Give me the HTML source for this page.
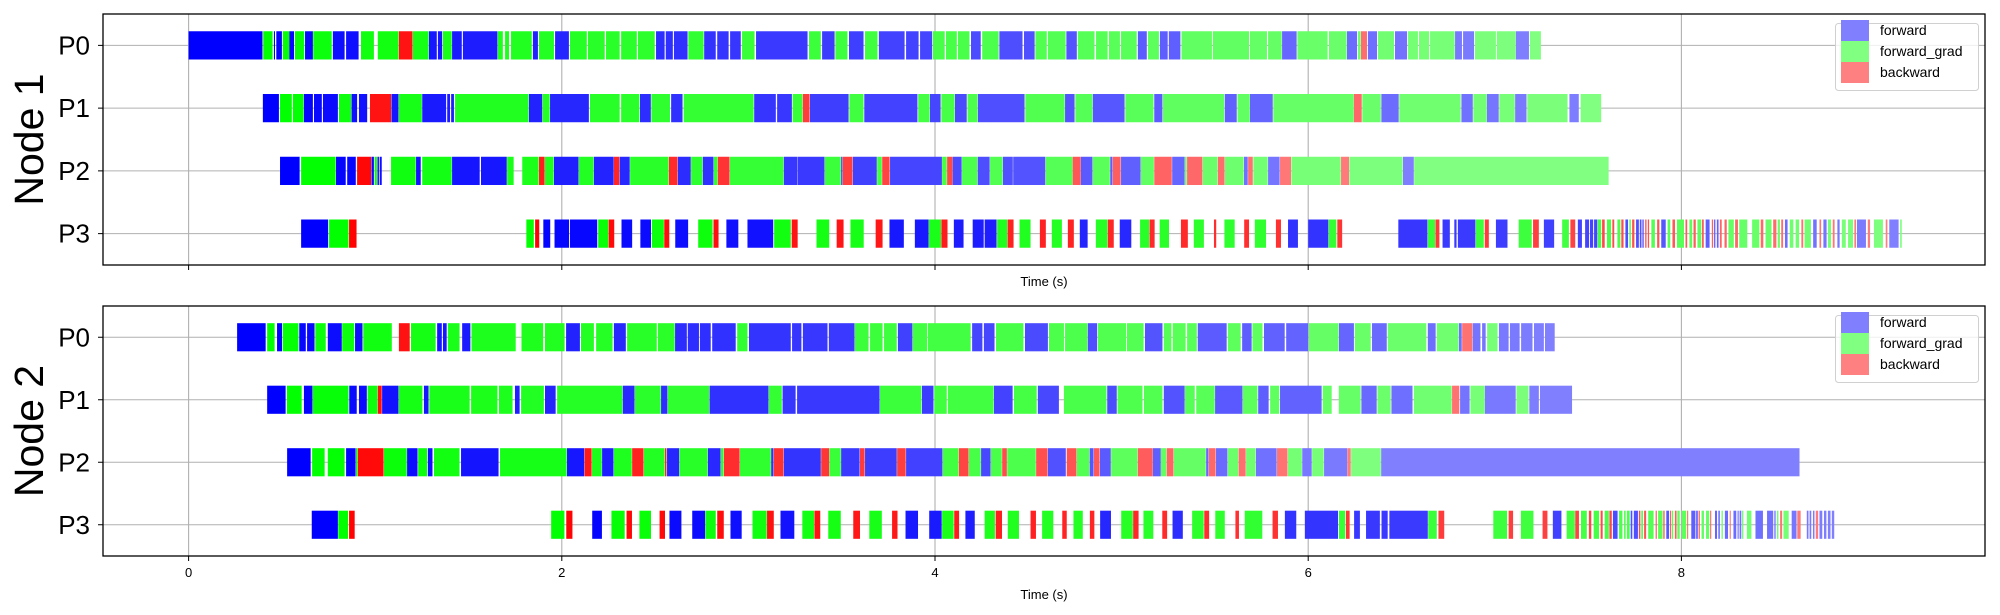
<!DOCTYPE html>
<html><head><meta charset="utf-8"><style>
html,body{margin:0;padding:0;background:#fff;}
svg{display:block;font-family:"Liberation Sans","DejaVu Sans",sans-serif;}
</style></head><body>
<svg id="chart" width="2000" height="615" viewBox="0 0 2000 615" xmlns="http://www.w3.org/2000/svg"></svg>
<script>
// ---- data (seconds), types: f=forward, g=forward_grad, b=backward ----
const rowLabels = ["P0","P1","P2","P3"];
const nodeLabels = ["Node 1","Node 2"];
const xTicks = [0,2,4,6,8];
const legendLabels = ["forward","forward_grad","backward"];

const n1p0 = [[0,0.396,"f"],[0.40,0.45,"g"],[0.457,0.463,"f"],[0.47,0.50,"f"],[0.505,0.54,"g"],[0.54,0.565,"f"],[0.57,0.62,"g"],[0.624,0.666,"f"],[0.668,0.767,"g"],[0.773,0.836,"f"],[0.844,0.911,"f"],[0.924,0.993,"g"],[1.014,1.125,"g"],[1.127,1.20,"b"],[1.202,1.286,"g"],[1.288,1.33,"f"],[1.336,1.359,"f"],[1.363,1.41,"g"],[1.412,1.464,"f"],[1.47,1.655,"f"],[1.657,1.684,"g"],[1.696,1.717,"g"],[1.728,1.839,"g"],[1.845,1.872,"f"],[1.878,1.958,"g"],[1.964,2.038,"f"],[2.044,2.134,"g"],[2.14,2.23,"g"],[2.237,2.31,"g"],[2.318,2.402,"g"],[2.408,2.498,"g"],[2.505,2.551,"f"],[2.557,2.595,"f"],[2.601,2.674,"f"],[2.678,2.76,"g"],[2.763,2.825,"f"],[2.833,2.894,"f"],[2.902,2.959,"f"],[2.966,3.033,"g"],[3.041,3.317,"f"],[3.325,3.388,"g"],[3.395,3.462,"f"],[3.466,3.531,"g"],[3.539,3.617,"f"],[3.625,3.692,"g"],[3.699,3.837,"f"],[3.845,3.912,"f"],[3.92,3.985,"f"],[3.989,4.052,"g"],[4.059,4.117,"g"],[4.123,4.185,"g"],[4.193,4.245,"f"],[4.253,4.341,"g"],[4.345,4.469,"f"],[4.477,4.534,"f"],[4.538,4.599,"g"],[4.605,4.70,"g"],[4.704,4.76,"f"],[4.765,4.855,"g"],[4.863,4.925,"g"],[4.932,4.991,"g"],[4.997,5.081,"g"],[5.087,5.135,"f"],[5.141,5.20,"g"],[5.205,5.247,"f"],[5.253,5.315,"f"],[5.321,5.484,"g"],[5.489,5.683,"g"],[5.688,5.779,"g"],[5.785,5.858,"g"],[5.86,5.938,"f"],[5.942,6.104,"g"],[6.111,6.206,"g"],[6.208,6.262,"f"],[6.267,6.281,"g"],[6.283,6.315,"b"],[6.32,6.369,"f"],[6.374,6.46,"g"],[6.465,6.53,"f"],[6.535,6.588,"g"],[6.594,6.648,"g"],[6.653,6.785,"g"],[6.787,6.824,"f"],[6.83,6.889,"f"],[6.894,7.006,"g"],[7.011,7.112,"g"],[7.113,7.183,"f"],[7.188,7.247,"g"]];
const n1p1 = [[0.398,0.484,"f"],[0.49,0.553,"g"],[0.559,0.616,"g"],[0.618,0.666,"f"],[0.672,0.714,"f"],[0.72,0.80,"f"],[0.806,0.871,"g"],[0.873,0.903,"f"],[0.913,0.957,"f"],[0.972,1.085,"b"],[1.087,1.125,"f"],[1.127,1.25,"g"],[1.252,1.38,"f"],[1.386,1.401,"f"],[1.407,1.422,"f"],[1.428,1.822,"g"],[1.824,1.895,"f"],[1.897,1.935,"g"],[1.937,2.145,"f"],[2.151,2.31,"g"],[2.318,2.416,"g"],[2.419,2.477,"f"],[2.48,2.58,"g"],[2.586,2.647,"f"],[2.653,3.028,"g"],[3.031,3.147,"f"],[3.154,3.233,"f"],[3.237,3.29,"g"],[3.292,3.328,"b"],[3.33,3.537,"f"],[3.541,3.617,"g"],[3.621,3.906,"f"],[3.91,3.971,"g"],[3.973,4.03,"f"],[4.034,4.105,"g"],[4.107,4.17,"f"],[4.174,4.228,"g"],[4.23,4.48,"f"],[4.484,4.695,"g"],[4.697,4.748,"f"],[4.752,4.844,"g"],[4.846,5.016,"f"],[5.02,5.171,"g"],[5.175,5.219,"f"],[5.222,5.55,"g"],[5.553,5.617,"f"],[5.621,5.687,"g"],[5.688,5.81,"f"],[5.813,6.244,"g"],[6.245,6.287,"b"],[6.29,6.389,"g"],[6.392,6.485,"f"],[6.488,6.817,"g"],[6.821,6.882,"f"],[6.885,6.957,"g"],[6.958,7.021,"f"],[7.024,7.107,"g"],[7.109,7.17,"f"],[7.174,7.39,"g"],[7.40,7.45,"f"],[7.46,7.57,"g"]];
const n1p2 = [[0.49,0.595,"f"],[0.603,0.788,"g"],[0.79,0.842,"f"],[0.85,0.896,"f"],[0.903,0.978,"b"],[0.98,0.993,"f"],[0.997,1.009,"g"],[1.012,1.02,"f"],[1.024,1.035,"f"],[1.085,1.217,"g"],[1.219,1.244,"f"],[1.252,1.41,"g"],[1.412,1.56,"f"],[1.567,1.705,"f"],[1.707,1.742,"g"],[1.788,1.876,"g"],[1.878,1.908,"b"],[1.91,1.956,"g"],[1.958,2.09,"f"],[2.092,2.17,"g"],[2.172,2.278,"f"],[2.279,2.308,"b"],[2.31,2.364,"f"],[2.366,2.572,"g"],[2.574,2.62,"b"],[2.622,2.691,"f"],[2.693,2.754,"g"],[2.756,2.813,"f"],[2.815,2.834,"g"],[2.836,2.899,"b"],[2.901,3.188,"g"],[3.19,3.261,"f"],[3.263,3.408,"f"],[3.41,3.495,"g"],[3.497,3.504,"f"],[3.506,3.558,"b"],[3.56,3.688,"f"],[3.69,3.715,"g"],[3.717,3.757,"b"],[3.759,4.037,"f"],[4.038,4.063,"g"],[4.065,4.094,"b"],[4.095,4.143,"f"],[4.145,4.227,"g"],[4.229,4.293,"f"],[4.295,4.362,"g"],[4.364,4.417,"f"],[4.419,4.591,"f"],[4.593,4.737,"g"],[4.738,4.781,"b"],[4.782,4.844,"f"],[4.846,4.937,"g"],[4.939,4.951,"f"],[4.953,4.995,"b"],[4.997,5.102,"f"],[5.104,5.173,"g"],[5.175,5.269,"b"],[5.271,5.338,"f"],[5.34,5.349,"g"],[5.351,5.433,"b"],[5.435,5.514,"g"],[5.516,5.552,"b"],[5.554,5.654,"g"],[5.656,5.676,"f"],[5.678,5.703,"b"],[5.706,5.783,"g"],[5.785,5.847,"f"],[5.849,5.908,"b"],[5.91,6.174,"g"],[6.176,6.219,"b"],[6.221,6.506,"g"],[6.508,6.566,"f"],[6.568,7.61,"g"]];
const n1p3 = [[0.603,0.748,"f"],[0.753,0.857,"g"],[0.86,0.90,"b"],[1.81,1.85,"g"],[1.857,1.879,"b"],[1.901,1.938,"f"],[1.961,2.039,"f"],[2.044,2.19,"f"],[2.195,2.249,"g"],[2.251,2.281,"b"],[2.32,2.377,"f"],[2.421,2.478,"f"],[2.483,2.547,"g"],[2.549,2.576,"b"],[2.608,2.677,"f"],[2.731,2.808,"g"],[2.813,2.84,"b"],[2.882,2.946,"f"],[2.995,3.133,"f"],[3.138,3.227,"g"],[3.232,3.264,"b"],[3.365,3.433,"g"],[3.473,3.51,"b"],[3.547,3.618,"g"],[3.682,3.719,"b"],[3.756,3.833,"f"],[3.892,3.966,"f"],[3.968,4.032,"g"],[4.034,4.067,"b"],[4.101,4.153,"f"],[4.202,4.261,"f"],[4.266,4.33,"f"],[4.333,4.387,"g"],[4.389,4.421,"b"],[4.453,4.512,"g"],[4.562,4.594,"b"],[4.626,4.68,"g"],[4.712,4.744,"b"],[4.776,4.818,"f"],[4.862,4.924,"g"],[4.926,4.958,"b"],[4.99,5.052,"f"],[5.099,5.148,"g"],[5.15,5.177,"b"],[5.204,5.254,"g"],[5.318,5.355,"b"],[5.387,5.441,"g"],[5.495,5.507,"b"],[5.551,5.606,"g"],[5.657,5.683,"b"],[5.714,5.774,"g"],[5.827,5.854,"b"],[5.892,5.945,"f"],[6.0,6.108,"f"],[6.11,6.151,"g"],[6.156,6.182,"b"],[6.483,6.639,"f"],[6.641,6.68,"g"],[6.682,6.703,"b"],[6.72,6.759,"f"],[6.783,6.795,"f"],[6.802,6.896,"f"],[6.898,6.941,"g"],[6.946,6.968,"b"],[7.006,7.068,"f"],[7.128,7.198,"g"],[7.205,7.236,"b"],[7.263,7.318,"f"],[7.361,7.397,"g"],[7.405,7.431,"b"],[7.445,7.467,"f"],[7.484,7.505,"f"],[7.51,7.527,"f"],[7.532,7.549,"f"],[7.551,7.57,"g"],[7.575,7.589,"b"],[7.601,7.623,"g"],[7.63,7.64,"b"],[7.657,7.673,"g"],[7.678,7.69,"b"],[7.70,7.714,"f"],[7.721,7.729,"g"],[7.736,7.748,"b"],[7.757,7.772,"f"],[7.777,7.786,"f"],[7.791,7.798,"f"],[7.806,7.813,"b"],[7.82,7.827,"b"],[7.839,7.858,"g"],[7.87,7.882,"b"],[7.892,7.916,"f"],[7.926,7.94,"g"],[7.952,7.966,"b"],[7.976,8.014,"g"],[8.022,8.031,"b"],[8.043,8.058,"g"],[8.065,8.077,"b"],[8.086,8.106,"g"],[8.11,8.12,"b"],[8.13,8.151,"f"],[8.163,8.17,"b"],[8.175,8.182,"f"],[8.19,8.199,"f"],[8.206,8.216,"b"],[8.231,8.243,"b"],[8.252,8.281,"g"],[8.288,8.303,"b"],[8.31,8.353,"g"],[8.379,8.418,"g"],[8.425,8.439,"b"],[8.451,8.483,"g"],[8.492,8.509,"b"],[8.516,8.528,"g"],[8.535,8.545,"b"],[8.555,8.569,"f"],[8.581,8.60,"g"],[8.612,8.631,"g"],[8.643,8.653,"b"],[8.66,8.694,"g"],[8.706,8.725,"f"],[8.74,8.749,"b"],[8.761,8.778,"f"],[8.785,8.802,"g"],[8.811,8.821,"b"],[8.836,8.848,"f"],[8.86,8.881,"g"],[8.893,8.92,"g"],[8.927,8.936,"b"],[8.941,8.989,"f"],[8.999,9.011,"b"],[9.032,9.08,"g"],[9.095,9.104,"b"],[9.114,9.164,"f"],[9.172,9.181,"g"]];

const n2p0 = [[0.26,0.413,"f"],[0.421,0.461,"g"],[0.474,0.501,"f"],[0.505,0.589,"g"],[0.593,0.628,"f"],[0.635,0.675,"f"],[0.679,0.735,"g"],[0.746,0.821,"f"],[0.823,0.888,"g"],[0.892,0.932,"f"],[0.936,1.089,"g"],[1.127,1.185,"b"],[1.192,1.324,"g"],[1.332,1.357,"f"],[1.363,1.383,"f"],[1.389,1.452,"g"],[1.466,1.51,"f"],[1.516,1.753,"g"],[1.784,1.90,"g"],[1.91,2.015,"g"],[2.023,2.097,"f"],[2.103,2.172,"g"],[2.184,2.272,"g"],[2.279,2.343,"f"],[2.35,2.509,"g"],[2.515,2.605,"g"],[2.607,2.67,"f"],[2.675,2.735,"f"],[2.74,2.798,"f"],[2.806,2.932,"f"],[2.94,2.995,"g"],[3.003,3.227,"f"],[3.234,3.284,"f"],[3.292,3.424,"f"],[3.431,3.569,"f"],[3.571,3.644,"g"],[3.652,3.719,"g"],[3.727,3.795,"g"],[3.801,3.879,"f"],[3.881,3.958,"g"],[3.962,4.191,"g"],[4.199,4.254,"f"],[4.262,4.319,"f"],[4.327,4.474,"g"],[4.482,4.605,"f"],[4.611,4.691,"g"],[4.697,4.817,"g"],[4.819,4.869,"f"],[4.873,5.024,"g"],[5.029,5.118,"g"],[5.125,5.219,"f"],[5.226,5.267,"g"],[5.274,5.343,"g"],[5.351,5.403,"g"],[5.408,5.563,"f"],[5.569,5.638,"g"],[5.646,5.697,"f"],[5.701,5.755,"g"],[5.763,5.874,"f"],[5.882,6.0,"f"],[6.004,6.163,"g"],[6.165,6.245,"f"],[6.25,6.335,"g"],[6.342,6.421,"f"],[6.426,6.633,"g"],[6.641,6.683,"f"],[6.689,6.806,"g"],[6.808,6.823,"f"],[6.825,6.88,"b"],[6.882,6.923,"f"],[6.932,6.951,"f"],[6.959,7.015,"g"],[7.022,7.074,"f"],[7.081,7.133,"f"],[7.141,7.202,"f"],[7.21,7.263,"f"],[7.269,7.321,"f"]];
const n2p1 = [[0.421,0.52,"f"],[0.527,0.606,"g"],[0.618,0.664,"f"],[0.666,0.857,"g"],[0.861,0.901,"f"],[0.913,0.955,"f"],[0.959,1.012,"g"],[1.014,1.035,"b"],[1.037,1.125,"f"],[1.127,1.253,"g"],[1.261,1.286,"f"],[1.29,1.506,"g"],[1.514,1.655,"g"],[1.663,1.736,"g"],[1.749,1.774,"f"],[1.782,1.904,"g"],[1.91,1.967,"f"],[1.975,2.325,"g"],[2.327,2.39,"f"],[2.392,2.53,"g"],[2.532,2.566,"f"],[2.568,2.79,"g"],[2.792,3.108,"f"],[3.11,3.179,"g"],[3.183,3.253,"f"],[3.261,3.703,"f"],[3.705,3.927,"g"],[3.93,3.992,"f"],[3.996,4.063,"g"],[4.069,4.314,"g"],[4.316,4.416,"f"],[4.423,4.545,"g"],[4.551,4.664,"f"],[4.691,4.919,"g"],[4.923,4.974,"f"],[4.978,5.112,"g"],[5.12,5.219,"g"],[5.226,5.338,"f"],[5.34,5.392,"g"],[5.40,5.499,"g"],[5.501,5.648,"f"],[5.65,5.728,"g"],[5.732,5.788,"f"],[5.796,5.845,"g"],[5.849,6.072,"f"],[6.078,6.126,"g"],[6.164,6.281,"g"],[6.285,6.367,"f"],[6.371,6.442,"g"],[6.446,6.559,"f"],[6.566,6.769,"g"],[6.771,6.81,"b"],[6.814,6.865,"f"],[6.869,6.946,"g"],[6.947,7.112,"f"],[7.116,7.181,"g"],[7.185,7.236,"f"],[7.242,7.414,"f"]];
const n2p2 = [[0.528,0.654,"f"],[0.662,0.729,"g"],[0.746,0.836,"g"],[0.844,0.895,"f"],[0.897,0.905,"g"],[0.907,1.045,"b"],[1.047,1.169,"g"],[1.171,1.227,"f"],[1.23,1.278,"g"],[1.282,1.307,"f"],[1.315,1.452,"g"],[1.46,1.661,"f"],[1.669,2.026,"g"],[2.028,2.12,"f"],[2.122,2.16,"b"],[2.162,2.214,"g"],[2.216,2.277,"f"],[2.279,2.375,"g"],[2.377,2.438,"b"],[2.44,2.551,"g"],[2.553,2.561,"b"],[2.564,2.629,"f"],[2.631,2.781,"g"],[2.783,2.851,"f"],[2.853,2.867,"g"],[2.869,2.953,"b"],[2.955,3.12,"g"],[3.122,3.134,"f"],[3.136,3.188,"b"],[3.19,3.388,"f"],[3.39,3.433,"b"],[3.435,3.495,"g"],[3.497,3.596,"f"],[3.598,3.623,"b"],[3.625,3.795,"f"],[3.797,3.843,"b"],[3.845,4.04,"f"],[4.042,4.126,"g"],[4.128,4.18,"b"],[4.182,4.245,"g"],[4.247,4.298,"f"],[4.30,4.358,"g"],[4.36,4.385,"b"],[4.387,4.54,"g"],[4.542,4.603,"b"],[4.605,4.701,"f"],[4.706,4.758,"b"],[4.76,4.827,"g"],[4.829,4.85,"f"],[4.852,4.882,"b"],[4.884,4.942,"f"],[4.944,5.085,"g"],[5.087,5.167,"b"],[5.168,5.21,"f"],[5.211,5.24,"g"],[5.242,5.278,"b"],[5.28,5.451,"g"],[5.453,5.466,"f"],[5.468,5.504,"b"],[5.506,5.567,"f"],[5.569,5.625,"g"],[5.627,5.665,"b"],[5.667,5.718,"g"],[5.72,5.831,"f"],[5.833,5.889,"b"],[5.891,5.966,"g"],[5.968,6.019,"f"],[6.021,6.083,"g"],[6.085,6.209,"f"],[6.21,6.228,"b"],[6.23,6.389,"g"],[6.391,8.633,"f"]];
const n2p3 = [[0.66,0.80,"f"],[0.802,0.855,"g"],[0.86,0.89,"b"],[1.943,2.014,"g"],[2.024,2.057,"b"],[2.163,2.215,"f"],[2.266,2.337,"g"],[2.347,2.376,"b"],[2.416,2.478,"g"],[2.524,2.553,"b"],[2.577,2.641,"f"],[2.699,2.768,"f"],[2.77,2.825,"g"],[2.833,2.868,"b"],[2.904,2.964,"f"],[3.022,3.098,"g"],[3.10,3.136,"b"],[3.172,3.246,"f"],[3.289,3.352,"g"],[3.354,3.385,"b"],[3.428,3.495,"g"],[3.562,3.598,"b"],[3.648,3.715,"g"],[3.77,3.799,"b"],[3.842,3.909,"f"],[3.969,4.036,"f"],[4.038,4.10,"g"],[4.103,4.129,"b"],[4.163,4.213,"f"],[4.266,4.321,"g"],[4.325,4.359,"b"],[4.39,4.45,"g"],[4.512,4.541,"b"],[4.574,4.634,"g"],[4.682,4.706,"b"],[4.742,4.792,"g"],[4.83,4.854,"b"],[4.885,4.943,"f"],[4.998,5.06,"g"],[5.062,5.091,"b"],[5.117,5.17,"g"],[5.218,5.244,"b"],[5.273,5.328,"f"],[5.378,5.44,"g"],[5.443,5.469,"b"],[5.502,5.553,"g"],[5.61,5.629,"b"],[5.66,5.754,"g"],[5.809,5.838,"b"],[5.875,5.936,"f"],[5.982,6.16,"f"],[6.165,6.198,"g"],[6.202,6.222,"b"],[6.246,6.277,"f"],[6.31,6.384,"f"],[6.393,6.426,"f"],[6.435,6.641,"f"],[6.643,6.689,"g"],[6.698,6.729,"b"],[6.992,7.066,"g"],[7.074,7.098,"b"],[7.14,7.207,"g"],[7.256,7.282,"b"],[7.311,7.357,"f"],[7.385,7.429,"g"],[7.431,7.451,"b"],[7.462,7.493,"g"],[7.504,7.517,"b"],[7.53,7.559,"g"],[7.567,7.578,"b"],[7.589,7.611,"g"],[7.614,7.627,"b"],[7.633,7.658,"f"],[7.666,7.684,"g"],[7.693,7.701,"g"],[7.708,7.723,"g"],[7.728,7.737,"f"],[7.745,7.767,"f"],[7.772,7.78,"b"],[7.785,7.794,"g"],[7.80,7.811,"b"],[7.822,7.851,"g"],[7.862,7.868,"b"],[7.875,7.899,"g"],[7.903,7.91,"b"],[7.919,7.934,"f"],[7.939,7.945,"b"],[7.949,7.956,"g"],[7.965,7.974,"b"],[7.978,7.991,"g"],[8.002,8.026,"g"],[8.031,8.035,"b"],[8.053,8.075,"f"],[8.079,8.088,"f"],[8.092,8.099,"b"],[8.108,8.121,"g"],[8.132,8.149,"g"],[8.154,8.16,"b"],[8.18,8.191,"f"],[8.198,8.206,"f"],[8.215,8.222,"g"],[8.233,8.25,"f"],[8.259,8.263,"b"],[8.279,8.294,"f"],[8.301,8.307,"f"],[8.312,8.321,"f"],[8.325,8.332,"g"],[8.351,8.375,"g"],[8.397,8.437,"f"],[8.459,8.492,"f"],[8.498,8.505,"f"],[8.512,8.52,"g"],[8.529,8.54,"b"],[8.547,8.575,"g"],[8.591,8.617,"f"],[8.621,8.639,"b"],[8.672,8.681,"f"],[8.687,8.696,"f"],[8.705,8.713,"f"],[8.72,8.733,"b"],[8.74,8.755,"f"],[8.764,8.777,"f"],[8.785,8.799,"f"],[8.806,8.819,"f"]];

const node1Rows = [n1p0, n1p1, n1p2, n1p3];
const node2Rows = [n2p0, n2p1, n2p2, n2p3];

// ---- layout ----
const NS = "http://www.w3.org/2000/svg";
const svg = document.getElementById("chart");
const AX_L = 103, AX_R = 1985;
const X0 = 188.6, PX_PER_S = 186.6;
const xScale = t => X0 + t * PX_PER_S;
const panels = [{top:14, bottom:265, rows:node1Rows, label:nodeLabels[0], ticks:false},
                {top:306, bottom:556, rows:node2Rows, label:nodeLabels[1], ticks:true}];
const baseColor = {f:[0,0,255], g:[0,255,0], b:[255,0,0]};
function mk(tag, attrs, parent){
  const e = document.createElementNS(NS, tag);
  for (const k in attrs) e.setAttribute(k, attrs[k]);
  (parent||svg).appendChild(e);
  return e;
}
function mix(c, a){ return "rgb(" + c.map(v => Math.round(255 - (255 - v) * a)).join(",") + ")"; }

panels.forEach((p, pi) => {
  const g = mk("g", {});
  
  
  const yStep = (p.bottom - p.top) / 4;
  const yScale = r => p.top + yStep * (r + 0.5);
  const barH = yStep * 0.45;
  // gridlines
  xTicks.forEach(t => {
    const l = mk("line", {x1:xScale(t), x2:xScale(t), y1:p.top, y2:p.bottom, stroke:"#b0b0b0", "stroke-width":1.1}, g);
    
    
  });
  rowLabels.forEach((lab, r) => {
    const l = mk("line", {x1:AX_L, x2:AX_R, y1:yScale(r), y2:yScale(r), stroke:"#b0b0b0", "stroke-width":1.1}, g);
    
    
  });
  // bars
  p.rows.forEach((segs, r) => {
    const n = segs.length;
    segs.forEach((s, i) => {
      const a = 1 - 0.5 * (n > 1 ? i / (n - 1) : 0);
      const rect = mk("rect", {x:xScale(s[0]), y:yScale(r) - barH/2, width:Math.max(1, xScale(s[1]) - xScale(s[0])), height:barH, fill:mix(baseColor[s[2]], a)}, g);
      
      
    });
  });
  // frame
  const fr = mk("rect", {x:AX_L, y:p.top, width:AX_R - AX_L, height:p.bottom - p.top, fill:"none", stroke:"#000", "stroke-width":1.3}, g);
  
  
  // y ticks & labels
  rowLabels.forEach((lab, r) => {
    const tk = mk("line", {x1:AX_L - 5, x2:AX_L, y1:yScale(r), y2:yScale(r), stroke:"#000", "stroke-width":1}, g);
    
    
    const tx = mk("text", {x:90, y:yScale(r) + 9, "font-size":26, "text-anchor":"end", fill:"#000"}, g);
    tx.textContent = lab;
    
    
  });
  // x ticks
  xTicks.forEach(t => {
    const tk = mk("line", {x1:xScale(t), x2:xScale(t), y1:p.bottom, y2:p.bottom + 5, stroke:"#000", "stroke-width":1}, g);
    
    
    if (p.ticks) {
      const tx = mk("text", {x:xScale(t), y:p.bottom + 21, "font-size":13, "text-anchor":"middle", fill:"#000"}, g);
      tx.textContent = t;
      
      
    }
  });
  const xt = mk("text", {x:(AX_L + AX_R)/2, y:p.ticks ? p.bottom + 43 : p.bottom + 21, "font-size":13, "text-anchor":"middle", fill:"#000"}, g);
  xt.textContent = "Time (s)";
  
  
  const cy = (p.top + p.bottom) / 2;
  const yt = mk("text", {x:0, y:0, "font-size":41, "text-anchor":"middle", fill:"#000", transform:"translate(43," + cy + ") rotate(-90)"}, g);
  yt.textContent = p.label;
  
  
  // legend
  const lg = mk("g", {}, g);
  
  
  const ly = p.top + 9;
  mk("rect", {x:1835.5, y:ly + 0.5, width:143, height:67, rx:3, fill:"#fff", "fill-opacity":0.8, stroke:"#d0d0d0", "stroke-width":1}, lg);
  const lc = ["#8080ff", "#80ff80", "#ff8080"];
  legendLabels.forEach((lab, i) => {
    const sw = mk("rect", {x:1841, y:ly - 3 + i * 21, width:28, height:21, fill:lc[i]}, lg);
    
    
    const tx = mk("text", {x:1880, y:ly + 12 + i * 21, "font-size":14, fill:"#000"}, lg);
    tx.textContent = lab;
    
    
  });
});
</script>
</body></html>
